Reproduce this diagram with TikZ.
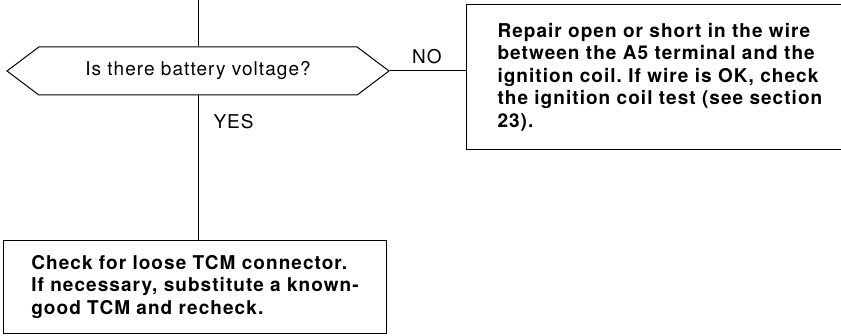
\documentclass[tikz,border=0pt]{standalone}
\usepackage{fontspec}
\setmainfont{TeX Gyre Heros}
\usetikzlibrary{shapes.symbols}
\frenchspacing

\newcommand{\dims}{
\def\qx{198}    % x of the main line
\def\qy{70}
\def\fsz{19}
}
\newcommand{\wide}{\addfontfeatures{LetterSpace=5.5}}

\tikzset{
  ask/.style={draw, signal, signal to=west and east, signal pointer angle=74,
    minimum width=382pt, minimum height=48pt, inner sep=0pt,
    font=\fontsize{\fsz}{22}\selectfont\wide},
  act/.style={align=left, inner ysep=0pt,
    font=\fontsize{\fsz}{22.5}\selectfont\bfseries\wide},
  lbl/.style={inner sep=0pt, font=\fontsize{\fsz}{20}\selectfont\wide},
}

\begin{document}
\begin{tikzpicture}[x=1pt,y=-1pt,line width=1pt]
  \dims
  \useasboundingbox (0,0) rectangle (841,336);
%
  \coordinate (in) at (\qx,0);
  \node[ask] (q) at (\qx,\qy+1) {Is there battery voltage?};
  \node[act, text width=400pt, inner xsep=31pt, minimum height=144pt, anchor=west] (rep) at (466,77)
    {Repair open or short in the wire\\
     between the A5 terminal and the\\
     ignition coil. If wire is OK, check\\
     the ignition coil test (see section\\
     23).};
  \node[act, draw, minimum width=383pt, minimum height=93pt, anchor=north west] (chk) at (3,240)
    {Check for loose TCM connector.\\
     If necessary, substitute a known-\\
     good TCM and recheck.};
  % box runs off the right edge of the page
  \draw (rep.north east) -- (rep.north west) -- (rep.south west) -- (rep.south east);
  % answers
  \node[lbl] (no) at (427,57) {NO};
  \node[lbl, anchor=west] (yes) at (213,122) {YES};
%
  \draw (in) -- (q.north);
  \draw (q.south) -- (q.south |- chk.north);
  \draw (q.east) -- (q.east -| rep.west);
\end{tikzpicture}
\end{document}
